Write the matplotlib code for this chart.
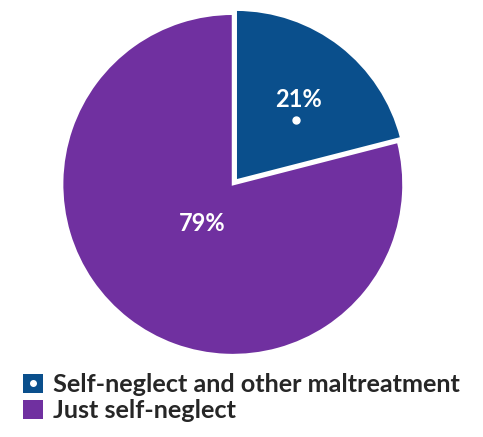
import numpy as np
import matplotlib.pyplot as plt
from matplotlib.patches import Patch
from matplotlib.lines import Line2D
from matplotlib.legend_handler import HandlerTuple

plt.rcParams['font.family'] = ['Lato', 'DejaVu Sans']

labels = ['Self-neglect and other maltreatment', 'Just self-neglect']
values = [21, 79]
colors = ['#0A4F8C', '#7030A0']

fig = plt.figure(figsize=(4.83, 4.37), dpi=100)
ax = fig.add_axes([0.122, 0.18, 0.72, 0.796])

wedges, _ = ax.pie(values, colors=colors, startangle=90, counterclock=False,
                   explode=[0.03, 0], wedgeprops=dict(edgecolor='white', linewidth=1.5))
ax.set_xlim(-1.02, 1.02)
ax.set_ylim(-1.02, 1.02)
ax.set_aspect('equal')

# percentage labels placed along each wedge's mid angle
label_r = [0.6, 0.29]
for w, v, r in zip(wedges, values, label_r):
    mid = np.deg2rad((w.theta1 + w.theta2) / 2)
    cx, cy = w.center
    ax.text(cx + r * np.cos(mid), cy + r * np.sin(mid), f'{v}%',
            ha='center', va='center', color='white', fontsize=17, fontweight='bold')

# small white dot inside the first wedge
w = wedges[0]
cx, cy = w.center
ax.plot(cx + 0.5 * np.cos(np.pi / 4), cy + 0.5 * np.sin(np.pi / 4), 'o',
        color='white', markersize=5)

handles = [
    (Patch(facecolor=colors[0]), Line2D([], [], marker='o', color='white', linestyle='', markersize=4)),
    Patch(facecolor=colors[1]),
]
fig.legend(handles, labels, loc='lower left', bbox_to_anchor=(0.0, -0.018),
           frameon=False, handler_map={tuple: HandlerTuple(ndivide=1, pad=0)},
           prop=dict(size=18.2, weight='bold'), labelcolor='#262626',
           handlelength=0.8, handleheight=0.8, handletextpad=0.4, labelspacing=0.12)

fig.savefig('out.png', dpi=100)
